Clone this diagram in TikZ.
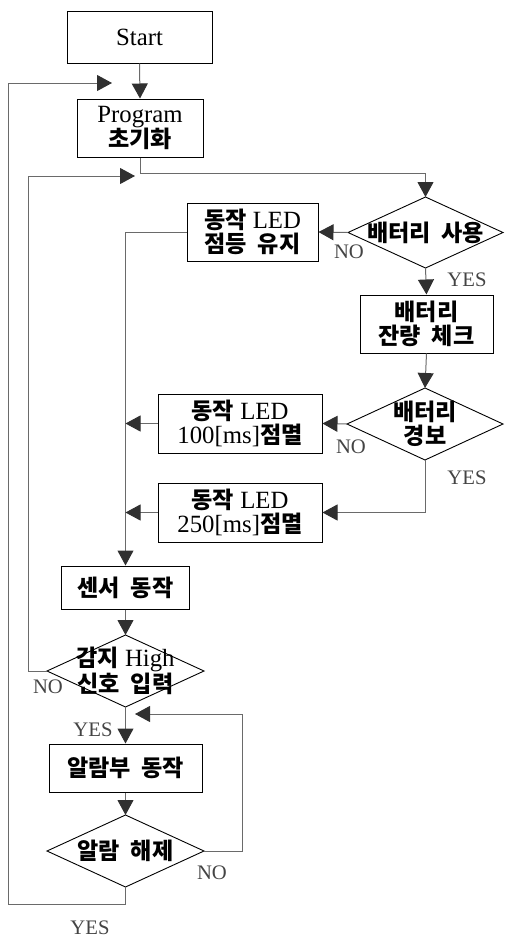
\documentclass[tikz,border=0pt]{standalone}
\usepackage{fontspec}
\setmainfont{Liberation Serif}[Scale=1.18]
\newfontfamily\kr{Noto Sans CJK KR}[Scale=1.1,WordSpace=2]
\newcommand\K[1]{{\kr\bfseries #1}}
\usetikzlibrary{arrows.meta,shapes.geometric}
\definecolor{linec}{HTML}{6A6A6A}
\definecolor{tipc}{HTML}{303030}
\definecolor{lblc}{HTML}{444444}
\tikzset{
  box/.style={draw=black,line width=1pt,rectangle,inner sep=0pt,align=center,font=\fontsize{21}{23.5}\selectfont},
  dia/.style={draw=black,line width=0.9pt,diamond,inner sep=0pt,outer sep=0pt},
  txt/.style={inner sep=0pt,align=center,font=\fontsize{21}{23.5}\selectfont},
  conn/.style={draw=linec,line width=1pt},
  arr/.style={conn,-{Triangle[length=15pt,width=16pt,color=tipc]}},
  lbl/.style={inner sep=0pt,text=lblc,font=\fontsize{17.5}{20}\selectfont},
}
\begin{document}
\begin{tikzpicture}[x=1pt,y=-1pt]
\useasboundingbox (0,0) rectangle (504,938);
% nodes
\node[box,minimum width=145pt,minimum height=52pt] (start) at (139.5,37) {Start};
\node[box,minimum width=126pt,minimum height=58pt] (prog) at (140,128) {Program\\\K{초기화}};
\node[dia,minimum width=155pt,minimum height=71pt] (d1) at (425.5,232.5) {};
\node[txt] (d1t) at (d1) {\K{배터리 사용}};
\node[box,minimum width=131pt,minimum height=58pt] (led1) at (252.5,232) {\K{동작} LED\\\K{점등 유지}};
\node[box,minimum width=133pt,minimum height=58pt] (chk) at (426.5,324) {\K{배터리}\\\K{잔량 체크}};
\node[dia,minimum width=156pt,minimum height=72pt] (d2) at (425,424) {};
\node[txt] (d2t) at (d2) {\K{배터리}\\\K{경보}};
\node[box,minimum width=164pt,minimum height=59pt] (led2) at (240,423.5) {\K{동작} LED\\100[ms]\K{점멸}};
\node[box,minimum width=164pt,minimum height=59pt] (led3) at (240,512.5) {\K{동작} LED\\250[ms]\K{점멸}};
\node[box,minimum width=128pt,minimum height=43pt] (sens) at (125.5,587.5) {\K{센서 동작}};
\node[dia,minimum width=157pt,minimum height=72pt] (d3) at (125.5,671) {};
\node[txt] (d3t) at (d3) {\K{감지} High\\\K{신호 입력}};
\node[box,minimum width=153pt,minimum height=48pt] (alarm) at (125.5,768) {\K{알람부 동작}};
\node[dia,minimum width=157pt,minimum height=72pt] (d4) at (125.5,851) {};
\node[txt] (d4t) at (d4) {\K{알람 해제}};
% free ends
\coordinate (l1) at (112,83);
\coordinate (l2) at (135,176);
\coordinate (l3) at (135,714);
\coordinate (v2) at (125.5,423.5);
\coordinate (v3) at (125.5,512.5);
% connectors
\draw[arr] (start.south) -- (prog.north);
\draw[arr] (d4.south) -- (125.5,904) -- (8,904) -- (8,83) -- (l1);
\draw[arr] (prog.south) -- (140,173) -- (425.5,173) -- (d1.north);
\draw[arr] (d3.west) -- (28,671) -- (28,176) -- (l2);
\draw[arr] (d1.west) -- (led1.east);
\draw[arr] (d1.south) -- (chk.north);
\draw[arr] (led1.west) -- (125.5,232) -- (sens.north);
\draw[arr] (chk.south) -- (d2.north);
\draw[arr] (d2.west) -- (led2.east);
\draw[arr] (d2.south) -- (425,512.5) -- (led3.east);
\draw[arr] (led2.west) -- (v2);
\draw[arr] (led3.west) -- (v3);
\draw[arr] (sens.south) -- (d3.north);
\draw[arr] (d3.south) -- (alarm.north);
\draw[arr] (alarm.south) -- (d4.north);
\draw[arr] (d4.east) -- (242,851) -- (242,714) -- (l3);
% labels
\node[lbl] (n1) at (349,252) {NO};
\node[lbl] (y1) at (467,280) {YES};
\node[lbl] (n2) at (351,447) {NO};
\node[lbl] (y2) at (467,478) {YES};
\node[lbl] (n3) at (48,687) {NO};
\node[lbl] (y3) at (93,730) {YES};
\node[lbl] (n4) at (212,873) {NO};
\node[lbl] (y4) at (90,928) {YES};
\end{tikzpicture}
\end{document}
